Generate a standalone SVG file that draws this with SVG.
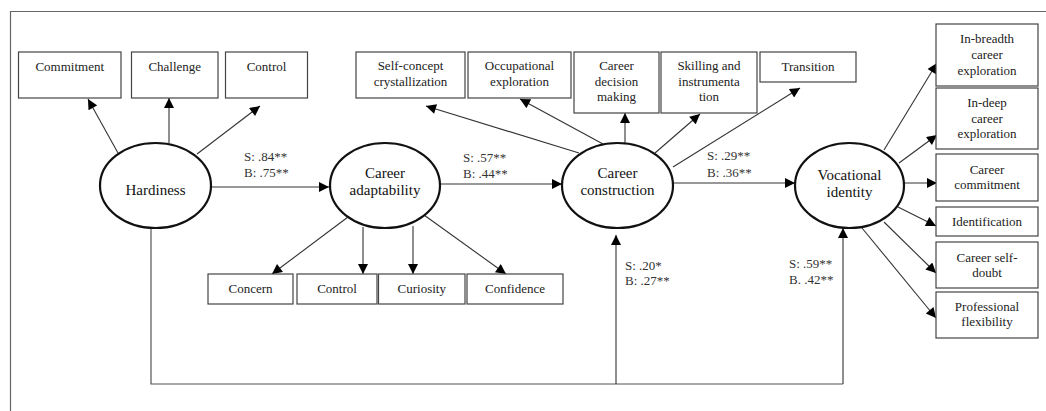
<svg xmlns="http://www.w3.org/2000/svg" width="1046" height="411" viewBox="0 0 1046 411">
<style>
.bg{fill:#fff}
.frame{fill:none;stroke:#666;stroke-width:1.2}
.box{fill:#fff;stroke:#444;stroke-width:1.2}
.ell{fill:#fff;stroke:#111;stroke-width:2.2}
.t{font-family:"Liberation Serif","Times New Roman",serif;font-size:13px;fill:#222;text-anchor:middle}
.big{font-family:"Liberation Serif","Times New Roman",serif;font-size:15px;fill:#111;text-anchor:middle}
.lab{font-family:"Liberation Serif","Times New Roman",serif;font-size:13px;fill:#333}
.c{fill:none;stroke:#333;stroke-width:1.1;marker-end:url(#ah)}
.ln{fill:none;stroke:#555;stroke-width:1.2}
</style>
<defs>
<marker id="ah" viewBox="0 0 10 10" refX="10" refY="5" markerWidth="12" markerHeight="10" markerUnits="userSpaceOnUse" orient="auto">
<path d="M0,0 L10,5 L0,10 Z" fill="#000"/>
</marker>
</defs>
<rect class="bg" x="0" y="0" width="1046" height="411"/>
<path class="frame" d="M10.5,411 V11.5 H1046"/>

<g id="connectors">
<path class="c" d="M118,153 L88,99"/>
<path class="c" d="M169,143 L169,98"/>
<path class="c" d="M197,154 L260,106"/>
<path class="c" d="M211,187 L329,187"/>
<path class="c" d="M348,217 L272,274"/>
<path class="c" d="M363,227 L363,274"/>
<path class="c" d="M413,226 L413,274"/>
<path class="c" d="M424,215 L506,274"/>
<path class="c" d="M440,184 L562,184"/>
<path class="c" d="M579,153 L426,106"/>
<path class="c" d="M603,144 L520,99"/>
<path class="c" d="M625,143 L625,113"/>
<path class="c" d="M655,153 L700,114"/>
<path class="c" d="M673,167 L800,88"/>
<path class="c" d="M673,183 L795,183"/>
<path class="c" d="M884,150 L937,63"/>
<path class="c" d="M899,163 L937,135"/>
<path class="c" d="M904,183 L937,183"/>
<path class="c" d="M898,207 L936,226"/>
<path class="c" d="M884,222 L936,273"/>
<path class="c" d="M862,228 L936,318"/>
<path class="ln" d="M151,228 V384 H843"/>
<path class="c" d="M616,384 V235"/>
<path class="c" d="M843,384 V228"/>
</g>

<g id="labels">
<text class="lab" x="244" y="161">S: .84**</text>
<text class="lab" x="244" y="177">B: .75**</text>
<text class="lab" x="463" y="162">S: .57**</text>
<text class="lab" x="463" y="178">B: .44**</text>
<text class="lab" x="707" y="160">S: .29**</text>
<text class="lab" x="707" y="177">B: .36**</text>
<text class="lab" x="625" y="270">S: .20*</text>
<text class="lab" x="625" y="285">B: .27**</text>
<text class="lab" x="789" y="268">S: .59**</text>
<text class="lab" x="789" y="284">B. .42**</text>
</g>

<g id="hardiness"><ellipse class="ell" cx="155.5" cy="185.5" rx="55.5" ry="42.5"/><text class="big" x="155.5" y="195">Hardiness</text></g>
<g id="career-adaptability"><ellipse class="ell" cx="385" cy="185.5" rx="55" ry="42.5"/><text class="big" x="385" y="178">Career</text><text class="big" x="385" y="195">adaptability</text></g>
<g id="career-construction"><ellipse class="ell" cx="617.5" cy="185.5" rx="55.5" ry="42.5"/><text class="big" x="617.5" y="178">Career</text><text class="big" x="617.5" y="195">construction</text></g>
<g id="vocational-identity"><ellipse class="ell" cx="849.5" cy="185.5" rx="54.5" ry="42.5"/><text class="big" x="849.5" y="180">Vocational</text><text class="big" x="849.5" y="197">identity</text></g>

<g id="commitment"><rect class="box" x="18.5" y="52" width="102.5" height="46"/><text class="t" x="69.75" y="71">Commitment</text></g>
<g id="challenge"><rect class="box" x="131.5" y="52" width="86.5" height="46"/><text class="t" x="174.75" y="71">Challenge</text></g>
<g id="control-h"><rect class="box" x="225.5" y="52" width="82" height="46"/><text class="t" x="266.5" y="71">Control</text></g>

<g id="self-concept"><rect class="box" x="356" y="52" width="109" height="46"/><text class="t" x="410.5" y="70">Self-concept</text><text class="t" x="410.5" y="86">crystallization</text></g>
<g id="occupational"><rect class="box" x="468" y="52" width="103" height="46"/><text class="t" x="519.5" y="70">Occupational</text><text class="t" x="519.5" y="86">exploration</text></g>
<g id="decision"><rect class="box" x="574" y="52" width="85" height="61"/><text class="t" x="616.5" y="70">Career</text><text class="t" x="616.5" y="86">decision</text><text class="t" x="616.5" y="101">making</text></g>
<g id="skilling"><rect class="box" x="661" y="52" width="96" height="61"/><text class="t" x="709" y="70">Skilling  and</text><text class="t" x="709" y="86">instrumenta</text><text class="t" x="709" y="101">tion</text></g>
<g id="transition"><rect class="box" x="760" y="52" width="96" height="30"/><text class="t" x="808" y="71">Transition</text></g>

<g id="concern"><rect class="box" x="208" y="274" width="85" height="30"/><text class="t" x="250.5" y="293">Concern</text></g>
<g id="control-a"><rect class="box" x="297" y="274" width="80" height="30"/><text class="t" x="337" y="293">Control</text></g>
<g id="curiosity"><rect class="box" x="378.5" y="274" width="86.5" height="30"/><text class="t" x="421.75" y="293">Curiosity</text></g>
<g id="confidence"><rect class="box" x="467" y="274" width="96" height="30"/><text class="t" x="515" y="293">Confidence</text></g>

<g id="in-breadth"><rect class="box" x="936" y="24" width="102" height="62"/><text class="t" x="987" y="43">In-breadth</text><text class="t" x="987" y="59">career</text><text class="t" x="987" y="75">exploration</text></g>
<g id="in-deep"><rect class="box" x="936" y="88" width="102" height="61"/><text class="t" x="987" y="107">In-deep</text><text class="t" x="987" y="123">career</text><text class="t" x="987" y="138">exploration</text></g>
<g id="career-commitment"><rect class="box" x="936" y="154" width="102" height="47"/><text class="t" x="987" y="174">Career</text><text class="t" x="987" y="189">commitment</text></g>
<g id="identification"><rect class="box" x="936" y="207" width="102" height="29"/><text class="t" x="987" y="226">Identification</text></g>
<g id="self-doubt"><rect class="box" x="936" y="242" width="102" height="46"/><text class="t" x="987" y="262">Career self-</text><text class="t" x="987" y="277">doubt</text></g>
<g id="flexibility"><rect class="box" x="936" y="292" width="102" height="46"/><text class="t" x="987" y="311">Professional</text><text class="t" x="987" y="326">flexibility</text></g>
</svg>
